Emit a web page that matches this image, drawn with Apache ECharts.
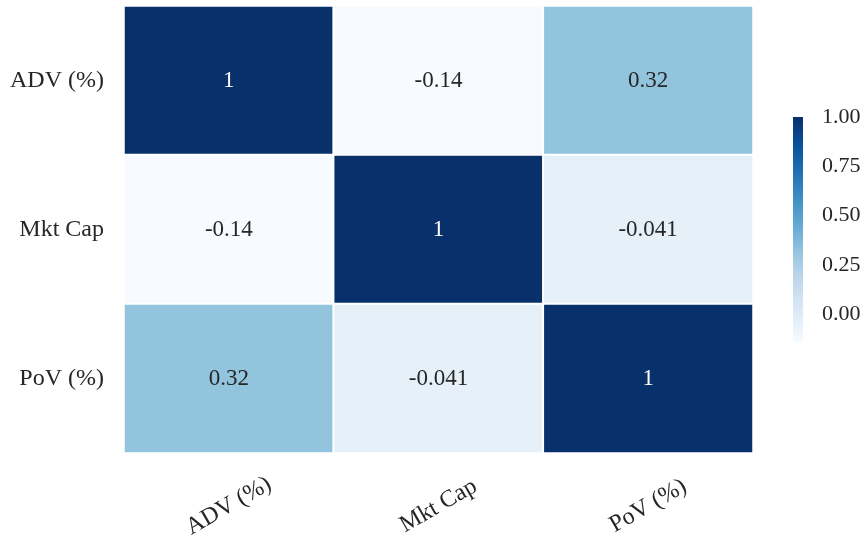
<!DOCTYPE html>
<html>
<head>
<meta charset="utf-8">
<script src="https://cdn.jsdelivr.net/npm/echarts@6/dist/echarts.min.js"></script>
<style>
  html, body { margin: 0; padding: 0; background: #ffffff; }
  #chart { width: 865px; height: 538px; }
</style>
</head>
<body>
<div id="chart"></div>
<script>
// Correlation matrix of the three trade features
const features = ['ADV (%)', 'Mkt Cap', 'PoV (%)'];
const rowADV = [1, -0.14, 0.32];
const rowMktCap = [-0.14, 1, -0.041];
const rowPoV = [0.32, -0.041, 1];
const colorbarTicks = [0, 0.25, 0.5, 0.75, 1];

const matrix = [rowADV, rowMktCap, rowPoV];
const vmin = -0.14;
const vmax = 1;

// Matplotlib "Blues" colormap stops
const blues = ['#f7fbff', '#deebf7', '#c6dbef', '#9ecae1', '#6baed6',
               '#4292c6', '#2171b5', '#08519c', '#08306b'];

const FONT = '"Liberation Serif", "Times New Roman", serif';
const TEXT = '#262626';

const data = [];
matrix.forEach((row, r) => {
  row.forEach((v, c) => {
    const t = (v - vmin) / (vmax - vmin);
    data.push({
      value: [c, r, v],
      label: { color: t > 0.6 ? '#ffffff' : TEXT }
    });
  });
});

const chart = echarts.init(document.getElementById('chart'), null, { renderer: 'canvas' });
chart.setOption({
  backgroundColor: '#ffffff',
  animation: false,
  grid: [
    { left: 124, right: 112, top: 6, bottom: 85, outerBoundsMode: 'none', containLabel: false },
    { left: 793, width: 10, top: 117, height: 225, outerBoundsMode: 'none', containLabel: false }
  ],
  xAxis: [
    {
      type: 'category',
      gridIndex: 0,
      data: features,
      axisLine: { show: false },
      axisTick: { show: false },
      splitLine: { show: false },
      axisLabel: {
        rotate: 30,
        align: 'center',
        verticalAlign: 'middle',
        margin: 53,
        fontFamily: FONT,
        fontSize: 24,
        color: TEXT
      }
    },
    { type: 'value', gridIndex: 1, show: false, min: 0, max: 1 }
  ],
  yAxis: [
    {
      type: 'category',
      gridIndex: 0,
      data: features,
      inverse: true,
      axisLine: { show: false },
      axisTick: { show: false },
      splitLine: { show: false },
      axisLabel: {
        margin: 20,
        fontFamily: FONT,
        fontSize: 24,
        color: TEXT
      }
    },
    {
      type: 'value',
      gridIndex: 1,
      position: 'right',
      min: vmin,
      max: vmax,
      axisLine: { show: false },
      axisTick: { show: false },
      splitLine: { show: false },
      axisLabel: {
        customValues: colorbarTicks,
        margin: 19,
        fontFamily: FONT,
        fontSize: 22,
        color: TEXT,
        formatter: v => v.toFixed(2)
      }
    }
  ],
  visualMap: {
    type: 'continuous',
    show: false,
    min: vmin,
    max: vmax,
    dimension: 2,
    seriesIndex: 0,
    inRange: { color: blues }
  },
  series: [
    {
      type: 'heatmap',
      xAxisIndex: 0,
      yAxisIndex: 0,
      data: data,
      itemStyle: { borderColor: '#ffffff', borderWidth: 2 },
      emphasis: { disabled: true },
      label: {
        show: true,
        fontFamily: FONT,
        fontSize: 23,
        formatter: p => String(p.value[2])
      }
    }
  ]
});

// Colour bar: a plain gradient rectangle spanning the colour axis (grid 1)
const barTop = chart.convertToPixel({ gridIndex: 1 }, [0, vmax]);
const barBottom = chart.convertToPixel({ gridIndex: 1 }, [1, vmin]);
const stops = blues.map((c, i) => ({ offset: 1 - i / (blues.length - 1), color: c }));
chart.setOption({
  graphic: [{
    type: 'rect',
    silent: true,
    shape: {
      x: barTop[0],
      y: barTop[1],
      width: barBottom[0] - barTop[0],
      height: barBottom[1] - barTop[1]
    },
    style: { fill: new echarts.graphic.LinearGradient(0, 0, 0, 1, stops) }
  }]
});
</script>
</body>
</html>
